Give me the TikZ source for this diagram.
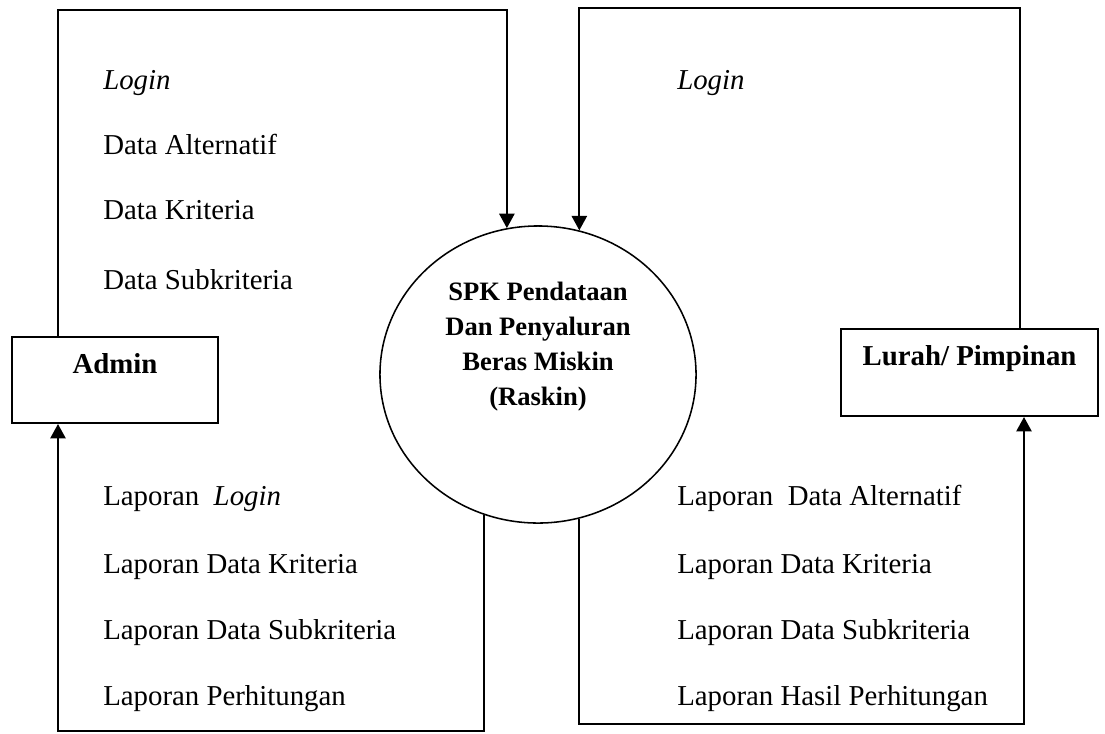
\documentclass[tikz,border=0pt]{standalone}
\usepackage{fontspec}
\setmainfont{Liberation Serif}
\usetikzlibrary{arrows.meta, positioning, calc, shapes.geometric}

\begin{document}
\begin{tikzpicture}[
    x=0.025cm, y=-0.025cm,
    every node/.style={font=\fontsize{20.5}{24}\selectfont},
    ent/.style={rectangle, draw, line width=1.4pt, minimum height=2.15cm,
                align=center, font=\fontsize{20.5}{24}\selectfont\bfseries},
    proc/.style={ellipse, draw, line width=1.1pt, minimum width=7.9cm,
                 minimum height=7.425cm, inner sep=0pt},
    proctext/.style={align=center, font=\fontsize{18.9}{24.8}\selectfont\bfseries},
    lbl/.style={anchor=base west, inner sep=0pt},
    flow/.style={line width=1.4pt},
    arr/.style={flow, -{Triangle[length=0.36cm, width=0.38cm]}},
]
\useasboundingbox (0,0) rectangle (1105,733);

\node[ent, minimum width=5.15cm] (admin) at (115,380) {Admin\\~};
\node[ent, minimum width=6.425cm, minimum height=2.175cm] (lurah) at (969.5,372.5)
    {Lurah/ Pimpinan\\~};
\node[proc] (spk) at (538,374.5) {};
\node[proctext] (spkname) at ([yshift=0.7cm]spk.center)
    {SPK Pendataan\\Dan Penyaluran\\Beras Miskin\\(Raskin)};

% Flow labels
\node[lbl] (inLogin) at (103,89) {\textit{Login}};
\node[lbl] (inAlt) at (103,154) {Data Alternatif};
\node[lbl] (inKrit) at (103,219) {Data Kriteria};
\node[lbl] (inSub) at (103,289) {Data Subkriteria};
\node[lbl] (inLoginL) at (677,89) {\textit{Login}};

\node[lbl] (outLogin) at (103,505) {Laporan~\ \textit{Login}};
\node[lbl] (outKrit) at (103,573) {Laporan Data Kriteria};
\node[lbl] (outSub) at (103,639) {Laporan Data Subkriteria};
\node[lbl] (outHit) at (103,705) {Laporan Perhitungan};

\node[lbl] (repAlt) at (677,505) {Laporan~\ Data Alternatif};
\node[lbl] (repKrit) at (677,573) {Laporan Data Kriteria};
\node[lbl] (repSub) at (677,639) {Laporan Data Subkriteria};
\node[lbl] (repHit) at (677,705) {Laporan Hasil Perhitungan};

% Corners
\coordinate (tl) at (58,10);
\coordinate (tr) at (1020,8);
\coordinate (bl) at (58,731);
\coordinate (br) at (1024,724);

% Arrows
\draw[arr] (admin.north -| tl) -- (tl) -| (spk.102.8);
\draw[arr] (lurah.north -| tr) -- (tr) -| (spk.74.8);
\draw[arr] (spk.249.25) |- (bl) -- (admin.south -| bl);
\draw[arr] (spk.286.75) |- (br) -- (lurah.south -| br);

\end{tikzpicture}
\end{document}
